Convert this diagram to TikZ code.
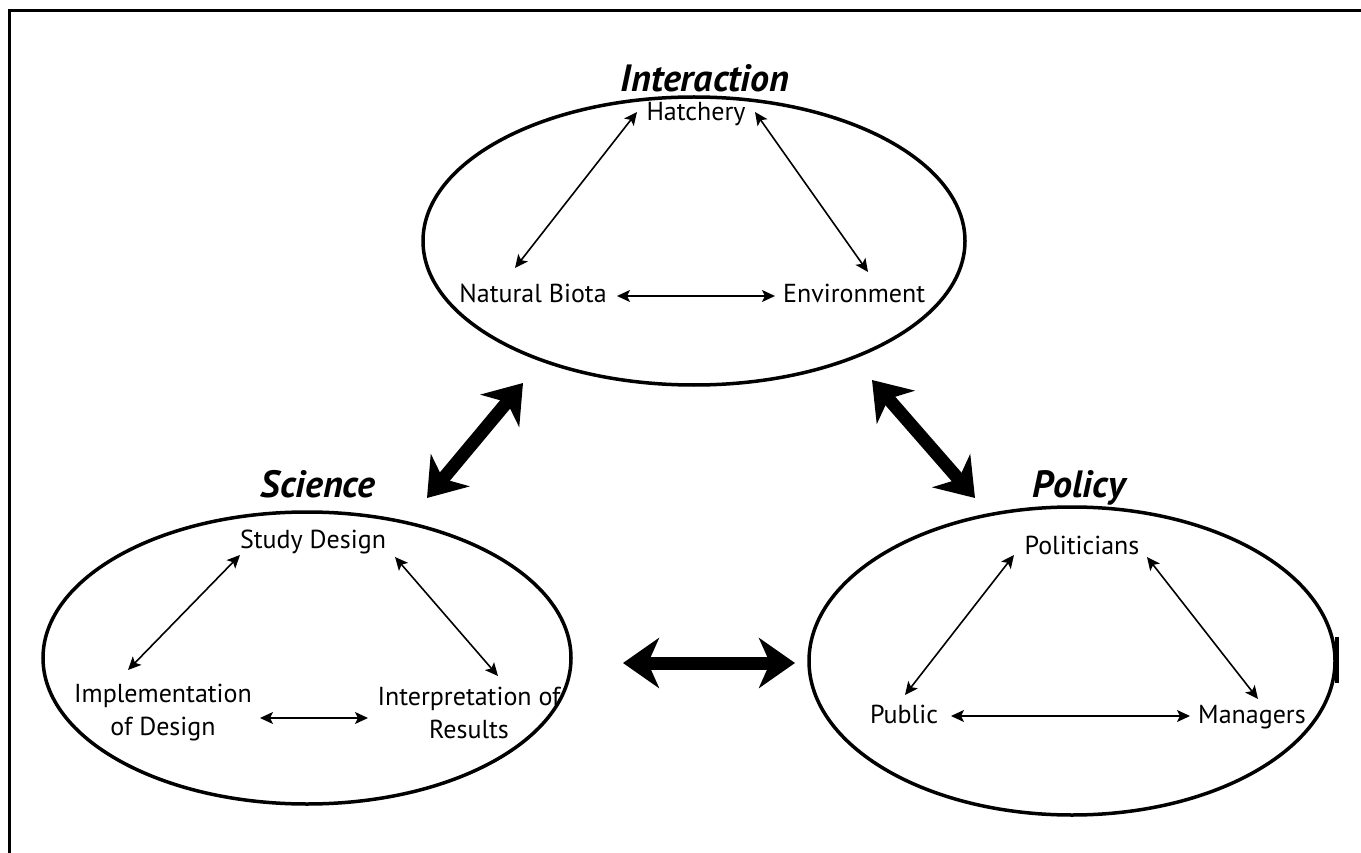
\documentclass[tikz,border=0pt]{standalone}
\usepackage{fontspec}
\setmainfont{PT Sans}
\usetikzlibrary{arrows.meta}
\begin{document}
\begin{tikzpicture}[x=1pt,y=-1pt,
  lbl/.style={font=\fontsize{26}{33}\selectfont, inner sep=0pt, anchor=base, align=center},
  ttl/.style={font=\fontsize{38}{42}\selectfont\bfseries\itshape, inner sep=0pt, anchor=base},
  oval/.style={line width=3.5pt},
  thinarr/.style={line width=1.6pt, {Stealth[length=13pt,width=12pt,inset=3pt]}-{Stealth[length=13pt,width=12pt,inset=3pt]}},
  bigarr/.style={line width=13pt, {Stealth[length=36pt,width=50pt,inset=11pt]}-{Stealth[length=36pt,width=50pt,inset=11pt]}}]
\useasboundingbox (0,0) rectangle (1361,853);
% frame
\draw[line width=2.7pt] (9.5,853) -- (9.5,10.5) -- (1361,10.5);

% ellipses
\draw[oval] (694,241) ellipse [x radius=271pt, y radius=144pt];
\draw[oval] (307,658) ellipse [x radius=264pt, y radius=146pt];
\draw[oval] (1072,661) ellipse [x radius=263pt, y radius=154pt];
\draw[line width=4pt] (1337,637) -- (1337,683);

% titles
\node[ttl] (tInt) at (705,92) {Interaction};
\node[ttl] (tSci) at (318,497) {Science};
\node[ttl] (tPol) at (1079,497) {Policy};

% Interaction
\node[lbl] (hat) at (696,121) {Hatchery};
\node[lbl] (nat) at (533,303) {Natural Biota};
\node[lbl,anchor=base west] (env) at (783,303) {Environment};
\coordinate (h1) at (637,112); \coordinate (n1) at (515,268);
\coordinate (h2) at (755,112); \coordinate (e1) at (868,272);
\coordinate (n2) at (617,296); \coordinate (e2) at (775,296);
\draw[thinarr] (h1) -- (n1);
\draw[thinarr] (h2) -- (e1);
\draw[thinarr] (n2) -- (e2);

% Science
\node[lbl] (sd) at (313,548) {Study Design};
\node[lbl] (imp) at (163,735) {Implementation\\of Design};
\node[lbl] (itp) at (469,738) {Interpretation of\\Results};
\coordinate (s1) at (240,555); \coordinate (i1) at (128,670);
\coordinate (s2) at (395,557); \coordinate (r1) at (498,676);
\coordinate (i2) at (260,718); \coordinate (r2) at (368,718);
\draw[thinarr] (s1) -- (i1);
\draw[thinarr] (s2) -- (r1);
\draw[thinarr] (i2) -- (r2);

% Policy
\node[lbl] (pol) at (1082,554) {Politicians};
\node[lbl] (pub) at (904,723) {Public};
\node[lbl] (man) at (1252,723) {Managers};
\coordinate (p1) at (1014,555); \coordinate (u1) at (905,695);
\coordinate (p2) at (1147,557); \coordinate (m1) at (1258,699);
\coordinate (u2) at (951,716); \coordinate (m2) at (1190,716);
\draw[thinarr] (p1) -- (u1);
\draw[thinarr] (p2) -- (m1);
\draw[thinarr] (u2) -- (m2);

% big arrows
\coordinate (a1) at (523,383); \coordinate (a2) at (427,498);
\coordinate (b1) at (872,380); \coordinate (b2) at (975,498);
\coordinate (c1) at (623,663); \coordinate (c2) at (795,663);
\draw[bigarr] (a1) -- (a2);
\draw[bigarr] (b1) -- (b2);
\draw[bigarr] (c1) -- (c2);
\end{tikzpicture}
\end{document}
